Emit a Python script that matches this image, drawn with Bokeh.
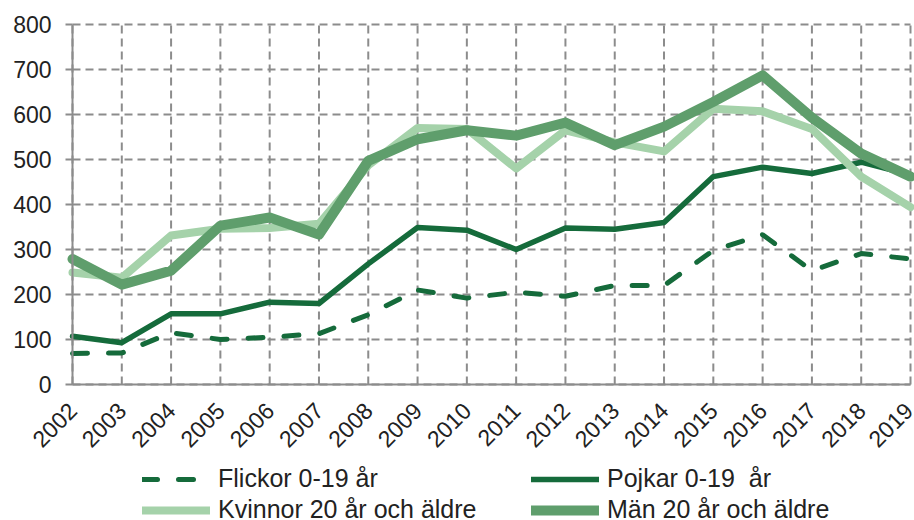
import math
from bokeh.plotting import figure
from bokeh.models import (ColumnDataSource, Legend, LegendItem, Range1d,
                          FixedTicker)
from bokeh.embed import file_html
from bokeh.resources import INLINE

years = list(range(2002, 2020))
flickor = [69, 70, 115, 100, 105, 113, 155, 210, 192, 205, 196, 220, 220, 298, 333, 253, 291, 279]
pojkar = [107, 93, 157, 157, 183, 180, 268, 349, 343, 300, 348, 345, 360, 462, 483, 469, 494, 466]
kvinnor = [249, 237, 331, 346, 348, 357, 487, 570, 568, 480, 565, 538, 518, 613, 607, 568, 462, 394]
man = [279, 222, 253, 353, 371, 333, 497, 545, 565, 553, 582, 532, 573, 628, 687, 593, 513, 462]
y_ticks = [0, 100, 200, 300, 400, 500, 600, 700, 800]

labels = ["Flickor 0-19 år", "Pojkar 0-19  år", "Kvinnor 20 år och äldre", "Män 20 år och äldre"]

DARK = "#156b3b"
LIGHT = "#a5d2aa"
MID = "#5f9e6c"
GRID = "#8c8c8c"
FONT = "Liberation Sans"

# layout: the data area spans 838 x 360 px; extra room is kept around it
# (left for the value labels, above for the top label, below for year labels and legend)
X_MIN, X_MAX = years[0], years[-1]
Y_MIN, Y_MAX = y_ticks[0], y_ticks[-1]
PX_PER_YEAR = 838 / (X_MAX - X_MIN)
PX_PER_UNIT = 360 / (Y_MAX - Y_MIN)
X_LOW = X_MIN - 72 / PX_PER_YEAR
X_HIGH = X_MAX + 4 / PX_PER_YEAR
Y_LOW = Y_MIN - 136 / PX_PER_UNIT
Y_HIGH = Y_MAX + 24 / PX_PER_UNIT

src = ColumnDataSource(data=dict(year=years, flickor=flickor, pojkar=pojkar,
                                 kvinnor=kvinnor, man=man))
vgrid_src = ColumnDataSource(data=dict(x=years, y0=[Y_MIN] * len(years),
                                       y1=[Y_MAX] * len(years)))
hgrid_src = ColumnDataSource(data=dict(y=y_ticks, x0=[X_MIN] * len(y_ticks),
                                       x1=[X_MAX] * len(y_ticks)))

p = figure(frame_width=914, frame_height=520, output_backend="svg", toolbar_location=None,
           x_range=Range1d(X_LOW, X_HIGH), y_range=Range1d(Y_LOW, Y_HIGH),
           min_border_left=0, min_border_right=0, min_border_top=0,
           min_border_bottom=0)
p.outline_line_color = None
p.background_fill_color = "white"
p.border_fill_color = "white"
p.xgrid.visible = False
p.ygrid.visible = False

p.segment(x0="x", y0="y0", x1="x", y1="y1", source=vgrid_src, line_color=GRID,
          line_width=2, line_dash="8 5")
p.segment(x0="x0", y0="y", x1="x1", y1="y", source=hgrid_src, line_color=GRID,
          line_width=2, line_dash="8 5")

r1 = p.line("year", "flickor", source=src, line_color=DARK, line_width=5,
            line_dash="15 21", line_cap="round")
r2 = p.line("year", "pojkar", source=src, line_color=DARK, line_width=5.5,
            line_cap="round", line_join="round")
r3 = p.line("year", "kvinnor", source=src, line_color=LIGHT, line_width=8,
            line_cap="round", line_join="round")
r4 = p.line("year", "man", source=src, line_color=MID, line_width=10,
            line_cap="round", line_join="round")

p.xaxis.ticker = FixedTicker(ticks=years)
p.yaxis.ticker = FixedTicker(ticks=y_ticks)
p.xaxis.bounds = (X_MIN, X_MAX)
p.yaxis.bounds = (Y_MIN, Y_MAX)
p.xaxis.fixed_location = Y_MIN
p.yaxis.fixed_location = X_MIN

for ax in (p.xaxis[0], p.yaxis[0]):
    ax.axis_line_color = GRID
    ax.axis_line_width = 2
    ax.major_tick_line_color = GRID
    ax.major_tick_line_width = 2
    ax.minor_tick_line_color = None
    ax.major_label_text_font = FONT
    ax.major_label_text_font_size = "23px"
    ax.major_label_text_color = "#222222"

p.yaxis.major_tick_out = 7
p.yaxis.major_tick_in = 0
p.yaxis.major_label_standoff = 14
p.xaxis.major_tick_out = 0
p.xaxis.major_tick_in = 0
p.xaxis.major_label_orientation = math.pi / 4
p.xaxis.major_label_standoff = 22

legend = Legend(items=[LegendItem(label=labels[0], renderers=[r1]),
                       LegendItem(label=labels[2], renderers=[r3]),
                       LegendItem(label=labels[1], renderers=[r2]),
                       LegendItem(label=labels[3], renderers=[r4])],
                ncols=2, location=(142, -4))
legend.label_text_font = FONT
legend.label_text_font_size = "25px"
legend.label_text_color = "#222222"
legend.glyph_width = 68
legend.glyph_height = 28
legend.label_height = 28
legend.label_standoff = 8
legend.label_width = 311
legend.spacing = 2
legend.padding = 0
legend.margin = 0
legend.border_line_color = None
legend.background_fill_alpha = 0
p.add_layout(legend, "center")

open("out.html", "w").write(file_html(p, INLINE))
